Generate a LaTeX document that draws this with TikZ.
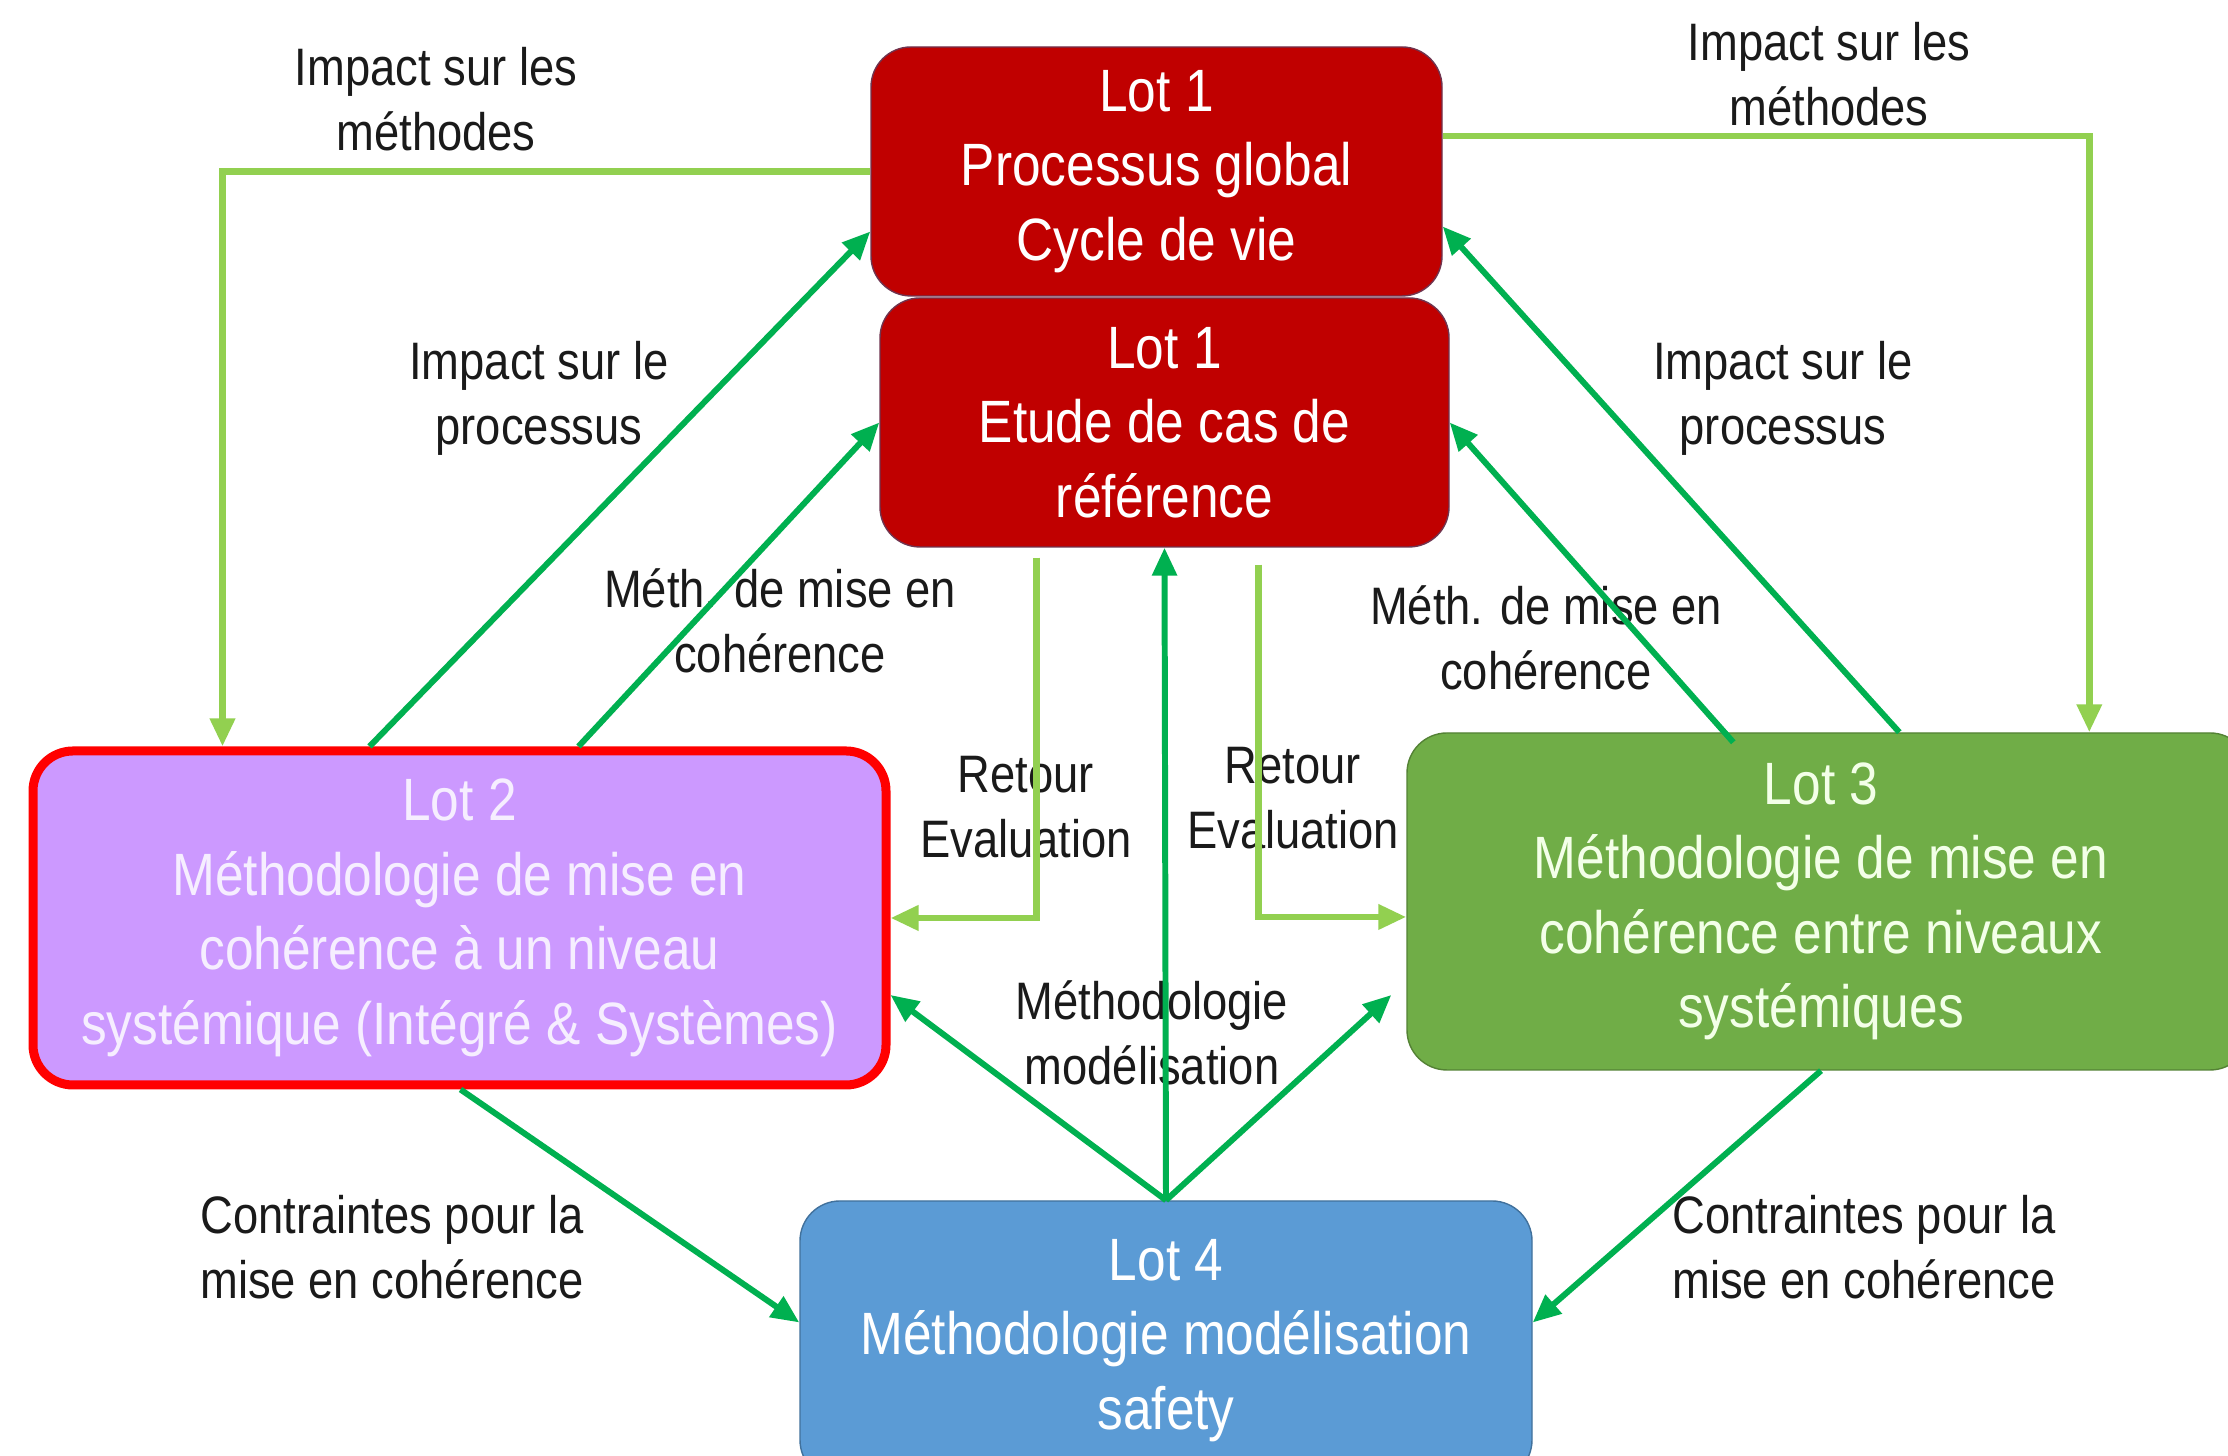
\documentclass[tikz,border=0pt]{standalone}
\usepackage{fontspec}
\setmainfont{Liberation Sans}[FakeStretch=0.86]
\usetikzlibrary{arrows.meta}

\definecolor{lotred}{HTML}{C00000}
\definecolor{lotredline}{HTML}{70344F}
\definecolor{lotlilac}{HTML}{CC99FF}
\definecolor{lotlilactext}{HTML}{F6EEFF}
\definecolor{lotgreen}{HTML}{70AD47}
\definecolor{lotgreenline}{HTML}{548235}
\definecolor{lotgreentext}{HTML}{F3FFE8}
\definecolor{lotblue}{HTML}{5B9BD5}
\definecolor{lotblueline}{HTML}{41719C}
\definecolor{darkgreen}{HTML}{00B050}
\definecolor{lightgreen}{HTML}{92D050}
\definecolor{labelgray}{HTML}{1A1A1A}

\begin{document}
\begin{tikzpicture}[
    >={Triangle[length=2.8mm,width=2.4mm]},
    lot/.style={draw, rounded corners=4mm, align=center, inner sep=0pt,
        font=\fontsize{17}{21.2}\selectfont},
    lbl/.style={align=center, text=labelgray, font=\fontsize{15}{18.5}\selectfont},
    dark/.style={draw=darkgreen, line width=1.7pt},
    light/.style={draw=lightgreen, line width=1.9pt},
  ]
    \path[use as bounding box, fill=white] (0,0) rectangle (22.28,14.56);

    % Lot boxes
    \node[lot, fill=lotred, draw=lotredline, text=white,
        minimum width=5.71cm, minimum height=2.49cm] (lot1a) at (11.565,12.845)
        {Lot 1\\Processus global\\Cycle de vie};
    \node[lot, fill=lotred, draw=lotredline, text=white,
        minimum width=5.69cm, minimum height=2.49cm] (lot1b) at (11.645,10.335)
        {Lot 1\\Etude de cas de\\référence};
    \node[lot, fill=lotlilac, draw=red, line width=0.9mm, text=lotlilactext,
        minimum width=8.53cm, minimum height=3.34cm] (lot2) at (4.595,5.38)
        {Lot 2\\Méthodologie de mise en\\cohérence à un niveau\\systémique (Intégré \& Systèmes)};
    \node[lot, fill=lotgreen, draw=lotgreenline, text=lotgreentext,
        minimum width=8.43cm, minimum height=3.37cm] (lot3) at (18.285,5.545)
        {\hspace{-1.5mm}Lot 3\\\hspace{-1.5mm}Méthodologie de mise en\\\hspace{-1.5mm}cohérence entre niveaux\\\hspace{-1.5mm}systémiques};
    \node[lot, fill=lotblue, draw=lotblueline, text=white,
        minimum width=7.32cm, minimum height=2.79cm] (lot4) at (11.66,1.155)
        {Lot 4\\Méthodologie modélisation\\safety};

    % Labels
    \node[lbl] (methL) at (4.36,13.565) {Impact sur les\\méthodes};
    \node[lbl] (methR) at (18.29,13.82) {Impact sur les\\méthodes};
    \node[lbl] (procL) at (5.39,10.58) {Impact sur le\\processus};
    \node[lbl] (procR) at (17.83,10.58) {Impact sur le\\processus};
    \node[lbl] (cohL) at (7.80,8.355) {Méth. de mise en\\cohérence};
    \node[lbl] (cohR) at (15.46,8.185) {Méth. de mise en\\cohérence};
    \node[lbl] (retL) at (10.26,6.49) {Retour\\Evaluation};
    \node[lbl] (retR) at (12.93,6.575) {Retour\\Evaluation};
    \node[lbl] (modl) at (11.52,4.235) {Méthodologie\\modélisation};
    \node[lbl] (conL) at (3.92,2.085) {Contraintes pour la\\mise en cohérence};
    \node[lbl] (conR) at (18.64,2.085) {Contraintes pour la\\mise en cohérence};

    % Impact sur les methodes (light)
    \draw[light, ->] (lot1a.west) -| ([xshift=1.94cm]lot2.north west);
    \draw[light, ->] ([yshift=3.55mm]lot1a.east) -| ([xshift=6.83cm]lot3.north west);

    % Retour evaluation (light)
    \draw[light, ->] ([xshift=1.57cm, yshift=-1mm]lot1b.south west) |- (lot2.east);
    \draw[light, ->] ([xshift=3.79cm, yshift=-1.7mm]lot1b.south west) |- ([yshift=-1.55mm]lot3.west);

    % Lot 2 / Lot 3 towards Lot 1
    \draw[dark, ->] ([xshift=3.41cm]lot2.north west) -- ([yshift=-6mm]lot1a.west);
    \draw[dark, ->] ([xshift=5.50cm]lot2.north west) -- (lot1b.west);
    \draw[dark, ->] ([xshift=4.93cm]lot3.north west) -- ([yshift=-5.5mm]lot1a.east);
    \draw[dark, ->] ([xshift=3.27cm, yshift=-1mm]lot3.north west) -- (lot1b.east);

    % Methodologie modelisation from Lot 4
    \draw[dark, ->] (lot4.north) -- (lot1b.south);
    \draw[dark, ->] (lot4.north) -- ([yshift=-7.7mm]lot2.east);
    \draw[dark, ->] (lot4.north) -- ([xshift=-1.5mm, yshift=-9.35mm]lot3.west);

    % Contraintes pour la mise en coherence
    \draw[dark, ->] ([xshift=4.32cm]lot2.south west) -- ([yshift=1.8mm]lot4.west);
    \draw[dark, ->] ([xshift=-0.75mm]lot3.south) -- ([yshift=1.8mm]lot4.east);
\end{tikzpicture}
\end{document}
